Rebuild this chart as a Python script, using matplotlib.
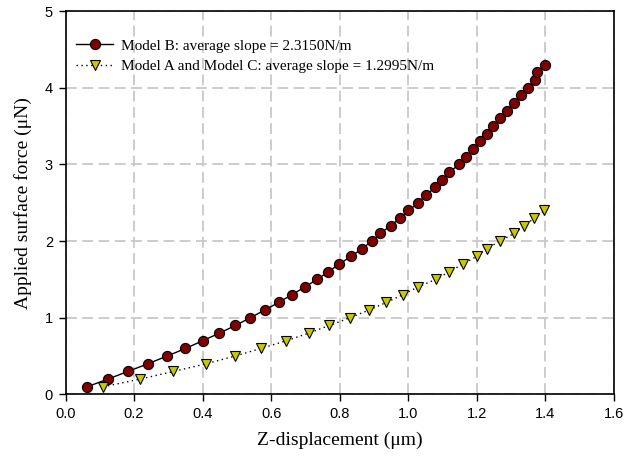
import matplotlib
matplotlib.use("Agg")
import matplotlib.pyplot as plt
from matplotlib.ticker import MultipleLocator, FormatStrFormatter

# Model B: force (uN) vs Z-displacement (um)
model_b_x = [0.063, 0.123, 0.182, 0.240, 0.296, 0.350, 0.400, 0.449, 0.496, 0.539,
             0.581, 0.622, 0.660, 0.698, 0.734, 0.767, 0.799, 0.833, 0.865, 0.894,
             0.918, 0.949, 0.976, 1.001, 1.030, 1.051, 1.079, 1.100, 1.120, 1.149,
             1.169, 1.189, 1.210, 1.230, 1.249, 1.269, 1.290, 1.309, 1.329, 1.349,
             1.370, 1.377, 1.400]
model_b_y = [0.1, 0.2, 0.3, 0.4, 0.5, 0.6, 0.7, 0.8, 0.9, 1.0,
             1.1, 1.2, 1.3, 1.4, 1.5, 1.6, 1.7, 1.8, 1.9, 2.0,
             2.1, 2.2, 2.3, 2.4, 2.5, 2.6, 2.7, 2.8, 2.9, 3.0,
             3.1, 3.2, 3.3, 3.4, 3.5, 3.6, 3.7, 3.8, 3.9, 4.0,
             4.1, 4.2, 4.3]

# Model A and Model C
model_ac_x = [0.110, 0.217, 0.315, 0.410, 0.494, 0.570, 0.644, 0.710, 0.770, 0.830,
              0.885, 0.936, 0.984, 1.028, 1.080, 1.120, 1.159, 1.200, 1.229, 1.268,
              1.309, 1.339, 1.368, 1.398]
model_ac_y = [0.1, 0.2, 0.3, 0.4, 0.5, 0.6, 0.7, 0.8, 0.9, 1.0,
              1.1, 1.2, 1.3, 1.4, 1.5, 1.6, 1.7, 1.8, 1.9, 2.0,
              2.1, 2.2, 2.3, 2.4]

label_b = "Model B: average slope = 2.3150N/m"
label_ac = "Model A and Model C: average slope = 1.2995N/m"
x_label = "Z-displacement (\u03bcm)"
y_label = "Applied surface force (\u03bcN)"

serif = ["Liberation Serif", "DejaVu Serif"]
sans = ["Liberation Sans", "DejaVu Sans"]

fig = plt.figure(figsize=(6.24, 4.63), dpi=100)
ax = fig.add_axes([0.105, 0.148, 0.8785, 0.828])

ax.plot(model_b_x, model_b_y, color="black", linestyle="-", linewidth=1.0,
        marker="o", markersize=7.3, markerfacecolor="#800000",
        markeredgecolor="black", markeredgewidth=0.8, label=label_b, zorder=3)
ax.plot(model_ac_x, model_ac_y, color="black", linestyle=(0, (1, 2.5)), linewidth=1.0,
        marker="v", markersize=7.5, markerfacecolor="#c8c800",
        markeredgecolor="black", markeredgewidth=0.8, label=label_ac, zorder=3)

ax.set_xlim(0, 1.6)
ax.set_ylim(0, 5)
ax.xaxis.set_major_locator(MultipleLocator(0.2))
ax.xaxis.set_major_formatter(FormatStrFormatter("%.1f"))
ax.yaxis.set_major_locator(MultipleLocator(1))

ax.grid(True, color="#c8c8c8", linestyle=(0, (6, 3)), linewidth=1.3, zorder=0)
ax.set_axisbelow(True)

for sp in ax.spines.values():
    sp.set_linewidth(1.2)
    sp.set_color("black")

ax.tick_params(direction="out", length=5, width=1, labelsize=10.5, pad=4)
for lab in ax.get_xticklabels() + ax.get_yticklabels():
    lab.set_family(sans)

ax.set_xlabel(x_label, family=serif, fontsize=14, labelpad=8)
ax.set_ylabel(y_label, family=serif, fontsize=14, labelpad=9)

leg = ax.legend(loc="upper left", bbox_to_anchor=(0.0, 0.955), frameon=False,
                prop={"family": serif, "size": 11}, handlelength=2.4,
                handletextpad=0.5, labelspacing=0.45, borderaxespad=0.3)

fig.savefig("out.png", dpi=100)
